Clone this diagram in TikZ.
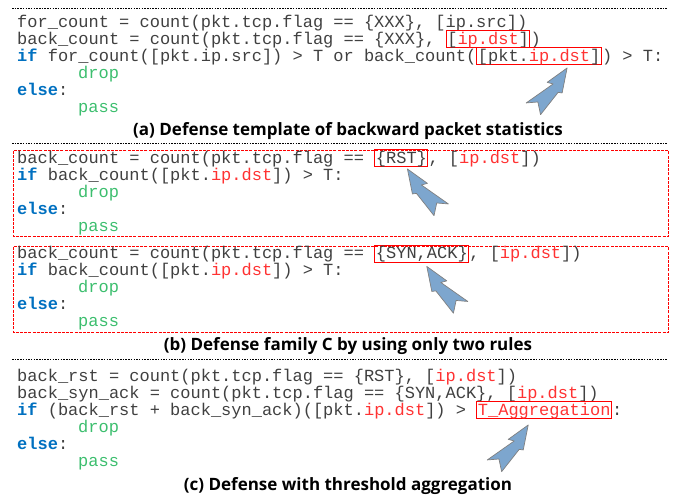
\documentclass[tikz,border=0pt]{standalone}
\usepackage{fontspec}
\setmonofont{Liberation Mono}
\newfontfamily\capfont{Open Sans}
\usetikzlibrary{calc}

\definecolor{codegray}{RGB}{64,64,64}
\definecolor{kwblue}{RGB}{0,112,192}
\definecolor{actgreen}{RGB}{60,190,110}
\definecolor{fldred}{RGB}{255,50,50}
\definecolor{arrowblue}{RGB}{125,166,206}

\newcommand{\kw}[1]{\textbf{\textcolor{kwblue}{#1}}}
\newcommand{\fld}[1]{\textcolor{fldred}{#1}}

\tikzset{pointer/.pic={
    \draw[fill=arrowblue, draw=gray, line width=0.7pt, line join=round]
        (0,0) -- (-20,14.4) -- (-14,16) -- (-41,35) -- (-29.3,34)
        -- (-26.6,46.7) -- (-9,24.4) -- (-5,25) -- cycle;
}}

\begin{document}
\begin{tikzpicture}[x=1pt, y=-1pt]
    \tikzstyle{code} = [inner sep=0pt, anchor=base west, text=codegray, font=\ttfamily\fontsize{17}{17}\selectfont, text height=13.5pt, text depth=3.5pt]
    \tikzstyle{act} = [code, text=actgreen]
    \tikzstyle{hl} = [code, draw=red, line width=0.9pt, inner xsep=1pt]
    \tikzstyle{captext} = [inner sep=0pt, anchor=base, font=\capfont\bfseries\fontsize{17}{17}\selectfont]
    \tikzstyle{sep} = [draw=black, line width=1pt, dash pattern=on 1.5pt off 1.2pt]
    \tikzstyle{rulebox} = [draw=red, line width=1pt, dash pattern=on 3pt off 1.2pt]

    \useasboundingbox (0,0) rectangle (676,499);

    \draw [sep] (12,8) -- (668,8);
    \node [code] (a1) at (17,27) {for\_count = count(pkt.tcp.flag == \{XXX\}, [ip.src])};
    \node [code] (a2) at (17,44) {back\_count = count(pkt.tcp.flag == \{XXX\},~\null};
    \node [hl] (a2box) at (a2.base east) {[\fld{ip.dst}]};
    \node [code] (a2end) at (a2box.base east) {)};
    \node [code] (a3) at (17,61) {\kw{if} for\_count([pkt.ip.src]) > T or back\_count(};
    \node [hl] (a3box) at (a3.base east) {[pkt.\fld{ip.dst}]};
    \node [code] (a3end) at (a3box.base east) {) > T:};
    \node [act] (a4) at (78,78) {drop};
    \node [code] (a5) at (17,95) {\kw{else}:};
    \node [act] (a6) at (78,112) {pass};
    \node [captext] (capa) at (348,135) {(a) Defense template of backward packet statistics};
    \draw [sep] (12,143) -- (668,143);

    \draw [rulebox] (13.5,150.5) rectangle (668.5,236.5);
    \node [code] (b1) at (17,163) {back\_count = count(pkt.tcp.flag ==~\null};
    \node [hl] (b1box) at (b1.base east) {\{RST\}};
    \node [code] (b1end) at (b1box.base east) {, [\fld{ip.dst}])};
    \node [code] (b2) at (17,180) {\kw{if} back\_count([pkt.\fld{ip.dst}]) > T:};
    \node [act] (b3) at (78,197) {drop};
    \node [code] (b4) at (17,214) {\kw{else}:};
    \node [act] (b5) at (78,231) {pass};

    \draw [rulebox] (13.5,246.5) rectangle (668.5,332.5);
    \node [code] (b6) at (17,258.5) {back\_count = count(pkt.tcp.flag ==~\null};
    \node [hl] (b6box) at (b6.base east) {\{SYN,ACK\}};
    \node [code] (b6end) at (b6box.base east) {, [\fld{ip.dst}])};
    \node [code] (b7) at (17,275.5) {\kw{if} back\_count([pkt.\fld{ip.dst}]) > T:};
    \node [act] (b8) at (78,292.5) {drop};
    \node [code] (b9) at (17,309.5) {\kw{else}:};
    \node [act] (b10) at (78,326.5) {pass};
    \node [captext] (capb) at (348,350) {(b) Defense family C by using only two rules};
    \draw [sep] (12,359) -- (668,359);

    \node [code] (c1) at (17,381) {back\_rst = count(pkt.tcp.flag == \{RST\}, [\fld{ip.dst}])};
    \node [code] (c2) at (17,398) {back\_syn\_ack = count(pkt.tcp.flag == \{SYN,ACK\}, [\fld{ip.dst}])};
    \node [code] (c3) at (17,415) {\kw{if} (back\_rst + back\_syn\_ack)([pkt.\fld{ip.dst}]) >~\null};
    \node [hl] (c3box) at (c3.base east) {\fld{T\_Aggregation}};
    \node [code] (c3end) at (c3box.base east) {:};
    \node [act] (c4) at (78,432) {drop};
    \node [code] (c5) at (17,449) {\kw{else}:};
    \node [act] (c6) at (78,466) {pass};
    \node [captext] (capc) at (348,490) {(c) Defense with threshold aggregation};

    \pic at ($(a3box.south)+(28,3)$) {pointer};
    \pic [xscale=-1] at ($(b1box.south)+(6,2)$) {pointer};
    \pic [xscale=-1] at ($(b6box.south)+(5,4)$) {pointer};
    \pic at ($(c3box.south)+(-16,6)$) {pointer};
\end{tikzpicture}
\end{document}
